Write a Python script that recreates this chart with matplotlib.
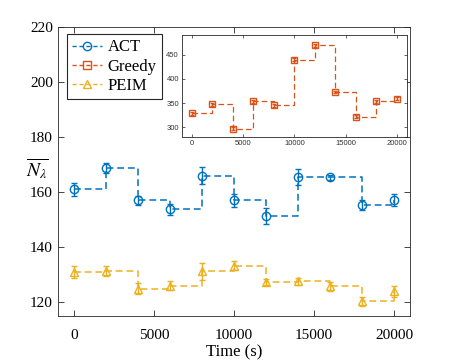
import matplotlib

matplotlib.use("Agg")
import matplotlib.pyplot as plt
from matplotlib.lines import Line2D

plt.rcParams["font.family"] = ["Liberation Serif", "DejaVu Serif"]
plt.rcParams["mathtext.fontset"] = "stix"

time_s = [0, 2000, 4000, 6000, 8000, 10000, 12000, 14000, 16000, 18000, 20000]
act_mean = [161.1, 168.8, 157.1, 153.9, 166.0, 157.0, 151.2, 165.5, 165.4, 155.5, 157.2]
act_err = [2.3, 1.8, 1.6, 2.0, 3.1, 2.2, 2.9, 2.9, 1.0, 1.8, 2.3]
peim_mean = [131.0, 131.4, 124.9, 126.0, 131.2, 133.3, 127.3, 127.7, 125.8, 120.3, 124.0]
peim_err = [2.2, 1.7, 2.0, 1.6, 3.1, 1.7, 1.2, 1.3, 1.7, 1.7, 2.0]
greedy_mean = [329, 348, 297, 354, 346, 439, 469, 373, 322, 354, 359]
greedy_err = [3, 3, 3, 3, 3, 3, 3, 3, 3, 3, 3]

series_names = ["ACT", "Greedy", "PEIM"]
BLUE = "#0072BD"
ORANGE = "#D95319"
YELLOW = "#EDB120"
AX_COLOR = "#262626"

fig = plt.figure(figsize=(4.52, 3.62), dpi=100)
ax = fig.add_axes([0.129, 0.127, 0.778, 0.798])


def draw_series(a, x, y, err, color, marker, ms, lw=1.1, cap=2.5):
    a.step(x, y, where="post", color=color, linestyle=(0, (4.5, 2.5)), linewidth=lw)
    a.errorbar(x, y, yerr=err, fmt="none", ecolor=color, elinewidth=1.0,
               capsize=cap, capthick=1.0)
    a.plot(x, y, linestyle="none", marker=marker, markersize=ms,
           markerfacecolor="none", markeredgecolor=color, markeredgewidth=1.0)


draw_series(ax, time_s, act_mean, act_err, BLUE, "o", 6)
draw_series(ax, time_s, peim_mean, peim_err, YELLOW, "^", 6)

ax.set_xlim(-1000, 21000)
ax.set_ylim(115, 220)
ax.set_xticks([0, 5000, 10000, 15000, 20000])
ax.set_yticks([120, 140, 160, 180, 200, 220])
ax.tick_params(direction="in", top=True, right=True, length=4, width=0.6,
               labelsize=11, color=AX_COLOR, labelcolor="black", pad=4)
ax.tick_params(axis="x", pad=9)
for sp in ax.spines.values():
    sp.set_color(AX_COLOR)
    sp.set_linewidth(0.6)
ax.set_xlabel("Time (s)", fontsize=12, labelpad=2)
ax.set_ylabel(r"$\overline{N_\lambda}$", fontsize=14, rotation=0)
ax.yaxis.set_label_coords(-0.06, 0.465)

handles = [
    Line2D([], [], color=BLUE, linestyle=(0, (3, 2)), linewidth=1.0, marker="o",
           markersize=6, markerfacecolor="none"),
    Line2D([], [], color=ORANGE, linestyle=(0, (3, 2)), linewidth=1.0, marker="s",
           markersize=6, markerfacecolor="none"),
    Line2D([], [], color=YELLOW, linestyle=(0, (3, 2)), linewidth=1.0, marker="^",
           markersize=6, markerfacecolor="none"),
]
leg = ax.legend(handles, series_names, loc="upper left", bbox_to_anchor=(0.024, 0.975),
                borderaxespad=0, fontsize=12, fancybox=False, framealpha=1,
                handlelength=1.8, handletextpad=0.35, labelspacing=0.2,
                borderpad=0.3)
leg.get_frame().set_edgecolor(AX_COLOR)
leg.get_frame().set_linewidth(0.8)

# inset with the Greedy series
ins = fig.add_axes([0.402, 0.621, 0.499, 0.282])
draw_series(ins, time_s, greedy_mean, greedy_err, ORANGE, "s", 4.5, lw=0.9, cap=1.5)
ins.set_xlim(-1000, 21000)
ins.set_ylim(280, 490)
ins.set_xticks([0, 5000, 10000, 15000, 20000])
ins.set_yticks([300, 350, 400, 450])
ins.tick_params(direction="in", top=True, right=True, length=2.5, width=0.5,
                labelsize=5.5, color=AX_COLOR, labelcolor="#333333", pad=2)
for lbl in ins.get_xticklabels() + ins.get_yticklabels():
    lbl.set_family(["Liberation Sans", "DejaVu Sans"])
for sp in ins.spines.values():
    sp.set_color(AX_COLOR)
    sp.set_linewidth(0.6)

fig.savefig("out.png", dpi=100, facecolor="white")
